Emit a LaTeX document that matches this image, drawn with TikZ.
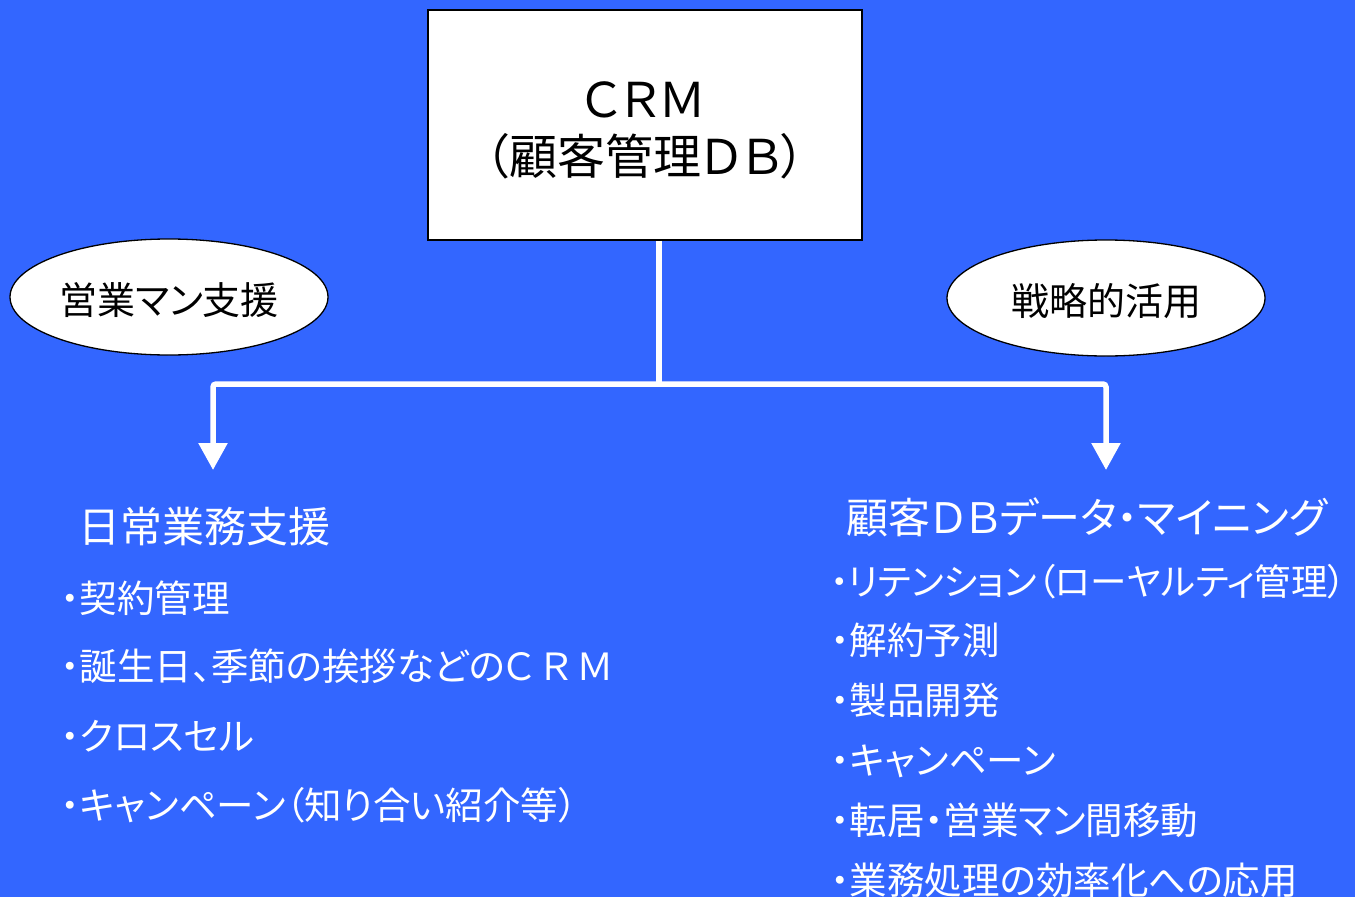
\documentclass[tikz,border=0pt]{standalone}
\usepackage{fontspec}
\usetikzlibrary{arrows.meta,shapes.geometric}
\newfontfamily\jp{Noto Sans CJK JP}[RawFeature=+palt]
\definecolor{bg}{RGB}{51,102,255}
\tikzset{
  crmbox/.style={draw=black,line width=1.6pt,fill=white,minimum width=434pt,minimum height=230pt,inner sep=0pt,align=center,font=\jp\fontsize{48}{57}\selectfont},
  oval/.style={ellipse,draw=black,line width=1.3pt,fill=white,minimum width=318pt,minimum height=116pt,inner sep=0pt,font=\jp\fontsize{38}{44}\selectfont},
  head/.style={anchor=base west,inner sep=0pt,text=white,font=\jp\fontsize{42}{48}\selectfont},
  item/.style={anchor=base west,inner sep=0pt,text=white,font=\jp\fontsize{37.5}{44}\selectfont},
  link/.style={draw=white,line width=5.5pt,rounded corners=3pt},
  arr/.style={link,-{Triangle[width=28pt,length=27pt]}}
}
\begin{document}
\begin{tikzpicture}[x=1pt,y=-1pt]
\fill[bg] (0,0) rectangle (1355,897);
\useasboundingbox (0,0) rectangle (1355,897);
\node[crmbox] (crm) at (645,125) {\rule{0pt}{46pt}ＣＲＭ\\（顧客管理ＤＢ）};
\node[oval] (sales) at (169,297) {\rule{0pt}{38pt}営業マン支援};
\node[oval] (strat) at (1106,298) {\rule{0pt}{38pt}戦略的活用};
\coordinate (J) at (659,384);
\coordinate (L) at (213,470);
\coordinate (R) at (1106,470);
\draw[link] (crm.south -| J) -- (J);
\draw[arr] (J) -| (L);
\draw[arr] (J) -| (R);
\node[head] (lh) at (78,542) {日常業務支援};
\node[item] (l1) at (61,612) {・契約管理};
\node[item] (l2) at (61,680) {・誕生日、季節の挨拶などのＣ\,Ｒ\,Ｍ};
\node[item] (l3) at (61,750) {・クロスセル};
\node[item] (l4) at (61,819) {・キャンペーン（知り合い紹介等）};
\node[head] (rh) at (846,533) {顧客ＤＢデータ・マイニング};
\node[item,font=\jp\fontsize{36.5}{44}\selectfont] (r1) at (830,595) {・リテンション（ローヤルティ管理）};
\node[item] (r2) at (831,654) {・解約予測};
\node[item] (r3) at (831,714) {・製品開発};
\node[item] (r4) at (831,774) {・キャンペーン};
\node[item] (r5) at (831,834) {・転居・営業マン間移動};
\node[item] (r6) at (831,894) {・業務処理の効率化への応用};
\end{tikzpicture}
\end{document}
